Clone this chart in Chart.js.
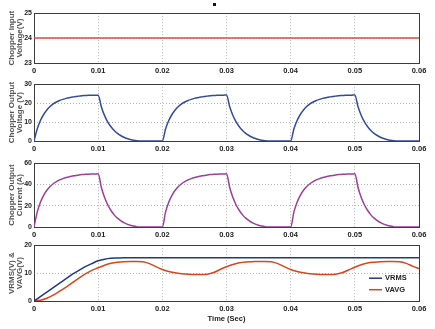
<!DOCTYPE html>
<html><head><meta charset="utf-8">
<script src="https://cdn.jsdelivr.net/npm/chart.js@4/dist/chart.umd.min.js"></script>
<style>
html,body{margin:0;padding:0;background:#fff;width:435px;height:329px;overflow:hidden;position:relative}
.p{position:absolute;left:0;width:435px}
#dot{position:absolute;left:213px;top:3px;width:3px;height:3px;background:#111}
</style></head><body>
<div id="dot"></div>
<div class="p" style="top:7px;height:68px"><canvas id="c1"></canvas></div>
<div class="p" style="top:78px;height:75px"><canvas id="c2"></canvas></div>
<div class="p" style="top:157px;height:82px"><canvas id="c3"></canvas></div>
<div class="p" style="top:239px;height:84px"><canvas id="c4"></canvas></div>
<script>
// ---- data ----
const timeIn = [0, 0.06];
const vIn = [24, 24];

const time = [0,0.0005,0.001,0.0015,0.002,0.0025,0.003,0.0035,0.004,0.0045,0.005,0.0055,0.006,0.0065,0.007,0.0075,0.008,0.0085,0.009,0.0095,
0.01,0.0105,0.011,0.0115,0.012,0.0125,0.013,0.0135,0.014,0.0145,0.015,0.0155,0.016,0.0165,0.017,0.0175,0.018,0.0185,0.019,0.0195,
0.02,0.0205,0.021,0.0215,0.022,0.0225,0.023,0.0235,0.024,0.0245,0.025,0.0255,0.026,0.0265,0.027,0.0275,0.028,0.0285,0.029,0.0295,
0.03,0.0305,0.031,0.0315,0.032,0.0325,0.033,0.0335,0.034,0.0345,0.035,0.0355,0.036,0.0365,0.037,0.0375,0.038,0.0385,0.039,0.0395,
0.04,0.0405,0.041,0.0415,0.042,0.0425,0.043,0.0435,0.044,0.0445,0.045,0.0455,0.046,0.0465,0.047,0.0475,0.048,0.0485,0.049,0.0495,
0.05,0.0505,0.051,0.0515,0.052,0.0525,0.053,0.0535,0.054,0.0545,0.055,0.0555,0.056,0.0565,0.057,0.0575,0.058,0.0585,0.059,0.0595,0.06];

const vOut = [0,6.3,10.8,14.0,16.4,18.2,19.6,20.6,21.4,22.0,22.5,22.9,23.2,23.5,23.7,23.9,24.0,24.1,24.1,24.2,
24.2,18.0,13.4,10.0,7.5,5.5,4.0,2.9,2.0,1.3,0.8,0.4,0.15,0.05,0,0,0,0,0,0,
0,6.3,10.8,14.0,16.4,18.2,19.6,20.6,21.4,22.0,22.5,22.9,23.2,23.5,23.7,23.9,24.0,24.1,24.2,24.2,
24.3,18.1,13.5,10.1,7.5,5.5,4.0,2.9,2.0,1.3,0.8,0.4,0.15,0.05,0,0,0,0,0,0,
0,6.3,10.8,14.0,16.4,18.2,19.6,20.6,21.4,22.0,22.5,22.9,23.2,23.5,23.7,23.9,24.0,24.1,24.2,24.2,
24.3,18.1,13.5,10.1,7.5,5.5,4.0,2.9,2.0,1.3,0.8,0.4,0.15,0.05,0,0,0,0,0,0,0];

const iOut = [0,14.0,23.3,29.8,34.5,38.0,40.7,42.7,44.3,45.5,46.5,47.3,47.9,48.5,48.9,49.3,49.5,49.7,49.8,49.9,
50.0,37.2,27.7,20.7,15.5,11.4,8.3,6.0,4.1,2.7,1.7,0.9,0.35,0.1,0,0,0,0,0,0,
0,14.0,23.3,29.8,34.5,38.0,40.7,42.7,44.3,45.5,46.5,47.3,47.9,48.5,48.9,49.3,49.5,49.7,49.8,49.9,
50.0,37.2,27.7,20.7,15.5,11.4,8.3,6.0,4.1,2.7,1.7,0.9,0.35,0.1,0,0,0,0,0,0,
0,14.0,23.3,29.8,34.5,38.0,40.7,42.7,44.3,45.5,46.5,47.3,47.9,48.5,48.9,49.3,49.5,49.7,49.8,49.9,
50.0,37.2,27.7,20.7,15.5,11.4,8.3,6.0,4.1,2.7,1.7,0.9,0.35,0.1,0,0,0,0,0,0,0];

const timeAvg = [0,0.001,0.002,0.003,0.004,0.005,0.006,0.007,0.008,0.009,
0.01,0.011,0.012,0.013,0.014,0.015,0.016,0.017,0.018,0.019,
0.02,0.021,0.022,0.023,0.024,0.025,0.026,0.027,0.028,0.029,
0.03,0.031,0.032,0.033,0.034,0.035,0.036,0.037,0.038,0.039,
0.04,0.041,0.042,0.043,0.044,0.045,0.046,0.047,0.048,0.049,
0.05,0.051,0.052,0.053,0.054,0.055,0.056,0.057,0.058,0.059,0.06];

const vrms = [0,1.6,3.2,4.8,6.4,8.0,9.6,11.0,12.3,13.4,
14.4,15.0,15.3,15.4,15.5,15.5,15.5,15.5,15.5,15.5,
15.5,15.5,15.5,15.5,15.5,15.5,15.5,15.5,15.5,15.5,
15.5,15.5,15.5,15.5,15.5,15.5,15.5,15.5,15.5,15.5,
15.5,15.5,15.5,15.5,15.5,15.5,15.5,15.5,15.5,15.5,
15.5,15.5,15.5,15.5,15.5,15.5,15.5,15.5,15.5,15.5,15.5];

const vavg = [0,0.3,1.0,2.1,3.5,5.0,6.6,8.2,9.7,11.0,
11.9,12.8,13.5,13.9,14.1,14.2,14.2,14.1,13.4,12.3,
11.3,10.6,10.1,9.8,9.6,9.5,9.5,9.6,10.2,11.3,
12.3,13.1,13.7,14.0,14.1,14.2,14.2,14.1,13.4,12.3,
11.3,10.6,10.1,9.8,9.6,9.5,9.5,9.6,10.1,11.1,
12.1,13.0,13.6,13.9,14.1,14.2,14.2,14.1,13.5,12.5,11.6];

const xTicks = ['0','0.01','0.02','0.03','0.04','0.05','0.06'];

// ---- chart helpers ----
const FAM = "'Liberation Sans Narrow','Liberation Sans',Arial,sans-serif";
const pts = (xs, ys) => xs.map((x, i) => ({x, y: ys[i]}));

const frame = {
  id: 'frame',
  beforeDatasetsDraw(chart) {
    const a = chart.chartArea, c = chart.ctx;
    c.save(); c.strokeStyle = '#3c3c3c'; c.lineWidth = 1;
    c.strokeRect(Math.round(a.left) + 0.5, Math.round(a.top) + 0.5, Math.round(a.right - a.left), Math.round(a.bottom - a.top));
    c.restore();
  }
};

const legendIn = {
  id: 'legendIn',
  afterDatasetsDraw(chart) {
    if (!chart.options.plugins.legendIn || !chart.options.plugins.legendIn.show) return;
    const c = chart.ctx, a = chart.chartArea;
    const x0 = a.right - 50, ys = [a.top + 33, a.top + 44.5];
    c.save();
    c.font = "bold 7.5px " + FAM; c.textBaseline = 'middle'; c.fillStyle = '#222';
    chart.data.datasets.forEach((d, i) => {
      c.strokeStyle = d.borderColor; c.lineWidth = 1.5;
      c.beginPath(); c.moveTo(x0, ys[i]); c.lineTo(x0 + 13, ys[i]); c.stroke();
      c.fillText(d.label, x0 + 16, ys[i]);
    });
    c.restore();
  }
};

function makeChart(id, datasets, ymin, ymax, ystep, ytitle, xH, xTitle, legend) {
  return new Chart(document.getElementById(id), {
    type: 'line',
    data: { datasets },
    plugins: [frame, legendIn],
    options: {
      animation: false, responsive: true, maintainAspectRatio: false,
      layout: { padding: { top: 6, right: 16, left: 0, bottom: 0 } },
      elements: { point: { radius: 0 }, line: { borderWidth: 1.5, cubicInterpolationMode: 'monotone' } },
      plugins: { legend: { display: false }, tooltip: { enabled: false }, legendIn: { show: !!legend } },
      scales: {
        x: {
          type: 'linear', min: 0, max: 0.06,
          afterBuildTicks: s => { s.ticks = xTicks.map(t => ({ value: parseFloat(t) })); },
          ticks: { callback: (v, i) => xTicks[i], font: { family: FAM, size: 7.5, weight: 'bold' }, color: '#222', padding: 3, maxRotation: 0, autoSkip: false },
          grid: { color: '#a0a0a0', lineWidth: 0.8, drawTicks: false },
          border: { display: false, dash: [1, 2] },
          title: xTitle ? { display: true, text: xTitle, font: { family: FAM, size: 7.5, weight: 'bold' }, color: '#222', padding: { top: 1, bottom: 0 } } : { display: false },
          afterFit: s => { s.height = xH; }
        },
        y: {
          min: ymin, max: ymax,
          ticks: { stepSize: ystep, font: { family: FAM, size: 7, weight: 'bold' }, color: '#222', padding: 2 },
          grid: { color: '#a0a0a0', lineWidth: 0.8, drawTicks: false },
          border: { display: false, dash: [1, 2] },
          title: { display: true, text: ytitle, font: { family: "'Liberation Sans',Arial,sans-serif", size: 8, weight: 'bold', lineHeight: 1.0 }, color: '#555', padding: { top: 8, bottom: 0 } },
          afterFit: s => { s.width = 34; }
        }
      }
    }
  });
}

makeChart('c1', [{ label: 'Vin', data: pts(timeIn, vIn), borderColor: '#e24a3a' }], 23, 25, 1, ['Chopper Input', 'Voltage(V)'], 12);
makeChart('c2', [{ label: 'Vo', data: pts(time, vOut), borderColor: '#344c96' }], 0, 30, 10, ['Chopper Output', 'Voltage (V)'], 12);
makeChart('c3', [{ label: 'Io', data: pts(time, iOut), borderColor: '#9a3f9a' }], 0, 60, 20, ['Chopper Output', 'Current (A)'], 12);
makeChart('c4', [
  { label: 'VRMS', data: pts(timeAvg, vrms), borderColor: '#1f3b7d' },
  { label: 'VAVG', data: pts(timeAvg, vavg), borderColor: '#d8461d' }
], 0, 20, 10, ['VRMS(V) &', 'VAVG(V)'], 22, 'Time (Sec)', true);
</script>
</body></html>
